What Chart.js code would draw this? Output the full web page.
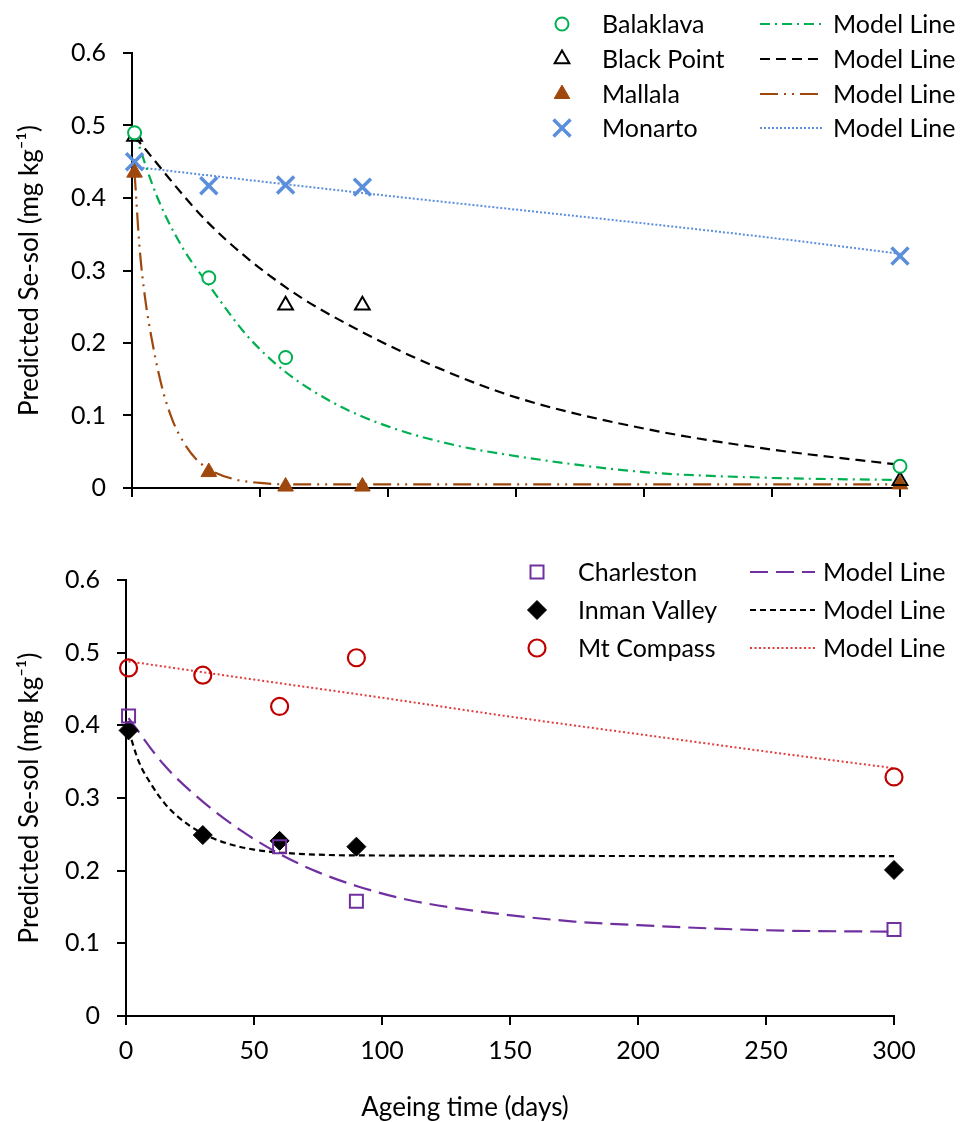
<!DOCTYPE html>
<html>
<head>
<meta charset="utf-8">
<script src="https://cdn.jsdelivr.net/npm/chart.js@4.4.1/dist/chart.umd.min.js"></script>
<style>
  html, body { margin: 0; padding: 0; background: #fff; }
  #wrap { position: relative; width: 963px; height: 1122px; }
  .panel { position: absolute; left: 0; width: 963px; }
  #top { top: 0; height: 520px; }
  #bottom { top: 520px; height: 602px; }
</style>
</head>
<body>
<div id="wrap">
  <div class="panel" id="top"><canvas id="c1" width="963" height="520"></canvas></div>
  <div class="panel" id="bottom"><canvas id="c2" width="963" height="602"></canvas></div>
</div>
<script>
// ---- top panel: measured values ----
const topDays = [1, 30, 60, 90, 300];
const balaklavaDays = [1, 30, 60, 300];
const balaklava = [0.49, 0.29, 0.18, 0.03];
const blackPointDays = [1, 60, 90, 300];
const blackPoint = [0.485, 0.252, 0.252, 0.01];
const mallala = [0.435, 0.022, 0.002, 0.002, 0.005];
const monarto = [0.45, 0.417, 0.418, 0.415, 0.32];

// ---- top panel: model lines ----
const balaklavaFitDays = [1, 10, 20, 30, 45, 60, 80, 100, 125, 150, 200, 250, 300];
const balaklavaFit = [0.49, 0.40, 0.33, 0.28, 0.21, 0.16, 0.115, 0.085, 0.06, 0.044, 0.022, 0.014, 0.011];
const blackPointFitDays = [1, 30, 60, 90, 120, 150, 200, 250, 300];
const blackPointFit = [0.485, 0.365, 0.277, 0.215, 0.165, 0.125, 0.082, 0.053, 0.032];
const mallalaFitDays = [1, 3, 5, 8, 12, 16, 20, 25, 30, 40, 50, 60, 300];
const mallalaFit = [0.435, 0.33, 0.265, 0.2, 0.135, 0.092, 0.064, 0.04, 0.026, 0.012, 0.007, 0.005, 0.005];
const monartoFitDays = [1, 50, 100, 150, 200, 250, 300];
const monartoFit = [0.443, 0.423, 0.403, 0.384, 0.365, 0.345, 0.323];

// ---- bottom panel: measured values ----
const bottomDays = [1, 30, 60, 90, 300];
const charlestonDays = [1, 60, 90, 300];
const charleston = [0.413, 0.233, 0.158, 0.119];
const inmanValley = [0.393, 0.249, 0.241, 0.233, 0.201];
const mtCompass = [0.479, 0.469, 0.426, 0.493, 0.329];

// ---- bottom panel: model lines ----
const charlestonFitDays = [1, 15, 30, 45, 60, 75, 90, 110, 140, 175, 200, 250, 300];
const charlestonFit = [0.41, 0.345, 0.295, 0.255, 0.223, 0.198, 0.179, 0.16, 0.143, 0.13, 0.125, 0.118, 0.116];
const inmanFitDays = [1, 5, 10, 15, 20, 30, 40, 50, 60, 75, 90, 300];
const inmanFit = [0.393, 0.35, 0.318, 0.293, 0.275, 0.251, 0.237, 0.229, 0.225, 0.222, 0.221, 0.22];
const mtCompassFitDays = [1, 50, 100, 150, 200, 250, 300];
const mtCompassFit = [0.488, 0.463, 0.438, 0.412, 0.388, 0.364, 0.341];

const xTicks = [0, 50, 100, 150, 200, 250, 300];
const yTicks = [0, 0.1, 0.2, 0.3, 0.4, 0.5, 0.6];

const FONT = { family: 'Lato, "Liberation Sans", sans-serif', size: 25 };
const TITLE_FONT = { family: 'Lato, "Liberation Sans", sans-serif', size: 26 };
const FONT_CSS = '25px Lato, "Liberation Sans", sans-serif';

const pts = (xs, ys) => xs.map((x, i) => ({ x, y: ys[i] }));

function markers(label, xs, ys, style, color, fill, radius, width) {
  return {
    label, data: pts(xs, ys), showLine: false, clip: false,
    pointStyle: style, pointRadius: radius, pointHoverRadius: radius,
    pointBorderColor: color, pointBackgroundColor: fill, pointBorderWidth: width,
    borderColor: color, backgroundColor: fill, borderWidth: width,
  };
}

function modelLine(xs, ys, color, dash, width) {
  return {
    label: 'Model Line', data: pts(xs, ys), showLine: true, clip: false,
    borderColor: color, borderDash: dash, borderWidth: width || 2.2,
    pointRadius: 0, pointHoverRadius: 0, cubicInterpolationMode: 'monotone',
  };
}

// two-column legend: marker + site name, dash sample + "Model Line"
const pairLegend = {
  id: 'pairLegend',
  afterDraw(chart, args, o) {
    const ctx = chart.ctx;
    const ds = chart.data.datasets;
    ctx.save();
    ctx.font = FONT_CSS;
    ctx.textBaseline = 'middle';
    o.rows.forEach((row, i) => {
      const y = o.y[i];
      const m = ds[row[0]], l = ds[row[1]];
      ctx.setLineDash([]);
      ctx.strokeStyle = m.pointBorderColor;
      ctx.fillStyle = m.pointBackgroundColor;
      ctx.lineWidth = m.pointBorderWidth;
      Chart.helpers.drawPoint(ctx, { pointStyle: m.pointStyle, radius: m.pointRadius, borderWidth: m.pointBorderWidth, rotation: 0 }, o.markerX, y);
      ctx.fillStyle = '#000';
      ctx.fillText(m.label, o.textX, y + 1);
      ctx.beginPath();
      ctx.setLineDash(l.borderDash);
      ctx.strokeStyle = l.borderColor;
      ctx.lineWidth = l.borderWidth;
      ctx.moveTo(o.lineX[0], y);
      ctx.lineTo(o.lineX[1], y);
      ctx.stroke();
      ctx.setLineDash([]);
      ctx.fillText(l.label, o.modelX, y + 1);
    });
    if (o.xTitle) {
      ctx.textAlign = 'center';
      ctx.font = '26px Lato, "Liberation Sans", sans-serif';
      ctx.fillText(o.xTitle.text, o.xTitle.x, o.xTitle.y);
    }
    ctx.restore();
  },
};

function scales(yWidth, xHeight, showXLabels) {
  const axisGrid = { drawOnChartArea: false, drawTicks: true, tickLength: 9, color: '#000', lineWidth: 2 };
  return {
    x: {
      type: 'linear', min: 0, max: 300,
      afterFit: (s) => { s.height = xHeight; },
      afterBuildTicks: (s) => { s.ticks = xTicks.map((v) => ({ value: v })); },
      border: { color: '#000', width: 2 },
      grid: axisGrid,
      ticks: { display: showXLabels, color: '#000', font: FONT, padding: 11, maxRotation: 0 },
    },
    y: {
      min: 0, max: 0.6,
      afterFit: (s) => { s.width = yWidth; },
      afterBuildTicks: (s) => { s.ticks = yTicks.map((v) => ({ value: v })); },
      border: { color: '#000', width: 2 },
      grid: axisGrid,
      ticks: { color: '#000', font: FONT, padding: 17, callback: (v) => String(+v.toFixed(1)) },
      title: { display: true, text: 'Predicted Se-sol (mg kg⁻¹)', color: '#000', font: TITLE_FONT, padding: { top: 14, bottom: 0 } },
    },
  };
}

function draw() {
  const green = '#00B050', brown = '#9E480E', blue = '#5B8FDB';
  const purple = '#7030A0', red = '#C00000', redLine = '#E03C3C';

  new Chart(document.getElementById('c1'), {
    type: 'scatter',
    data: {
      datasets: [
        markers('Balaklava', balaklavaDays, balaklava, 'circle', green, '#fff', 6.5, 2),
        markers('Black Point', blackPointDays, blackPoint, 'triangle', '#000', 'rgba(255,255,255,0)', 8.5, 2),
        markers('Mallala', topDays, mallala, 'triangle', brown, brown, 9, 1),
        markers('Monarto', topDays, monarto, 'crossRot', blue, blue, 12, 3.5),
        modelLine(balaklavaFitDays, balaklavaFit, green, [10, 5, 2, 5]),
        modelLine(blackPointFitDays, blackPointFit, '#000', [10, 6]),
        modelLine(mallalaFitDays, mallalaFit, brown, [18, 6, 2, 6, 2, 6]),
        modelLine(monartoFitDays, monartoFit, blue, [2, 2], 2),
      ],
    },
    options: {
      responsive: false, animation: false,
      layout: { padding: { top: 53, right: 63, left: 0, bottom: 0 } },
      scales: scales(132, 27, false),
      plugins: {
        legend: { display: false }, tooltip: { enabled: false },
        pairLegend: {
          rows: [[0, 4], [1, 5], [2, 6], [3, 7]], y: [24, 59, 94, 128],
          markerX: 562, textX: 602, lineX: [760, 823], modelX: 833,
        },
      },
    },
    plugins: [pairLegend],
  });

  new Chart(document.getElementById('c2'), {
    type: 'scatter',
    data: {
      datasets: [
        markers('Charleston', charlestonDays, charleston, 'rect', purple, 'rgba(255,255,255,0)', 9.2, 2),
        markers('Inman Valley', bottomDays, inmanValley, 'rectRot', '#000', '#000', 9.5, 1),
        markers('Mt Compass', bottomDays, mtCompass, 'circle', red, 'rgba(255,255,255,0)', 8.5, 2.2),
        modelLine(charlestonFitDays, charlestonFit, purple, [18, 8]),
        modelLine(inmanFitDays, inmanFit, '#000', [6, 4]),
        modelLine(mtCompassFitDays, mtCompassFit, redLine, [2, 2.5], 2),
      ],
    },
    options: {
      responsive: false, animation: false,
      layout: { padding: { top: 60, right: 69, left: 0, bottom: 0 } },
      scales: scales(126, 106, true),
      plugins: {
        legend: { display: false }, tooltip: { enabled: false },
        pairLegend: {
          rows: [[0, 3], [1, 4], [2, 5]], y: [52, 90, 128],
          markerX: 537, textX: 578, lineX: [750, 815], modelX: 823,
          xTitle: { text: 'Ageing time (days)', x: 465, y: 588 },
        },
      },
    },
    plugins: [pairLegend],
  });
}

if (document.fonts && document.fonts.load) {
  document.fonts.load(FONT_CSS).then(draw, draw);
} else {
  draw();
}
</script>
</body>
</html>
